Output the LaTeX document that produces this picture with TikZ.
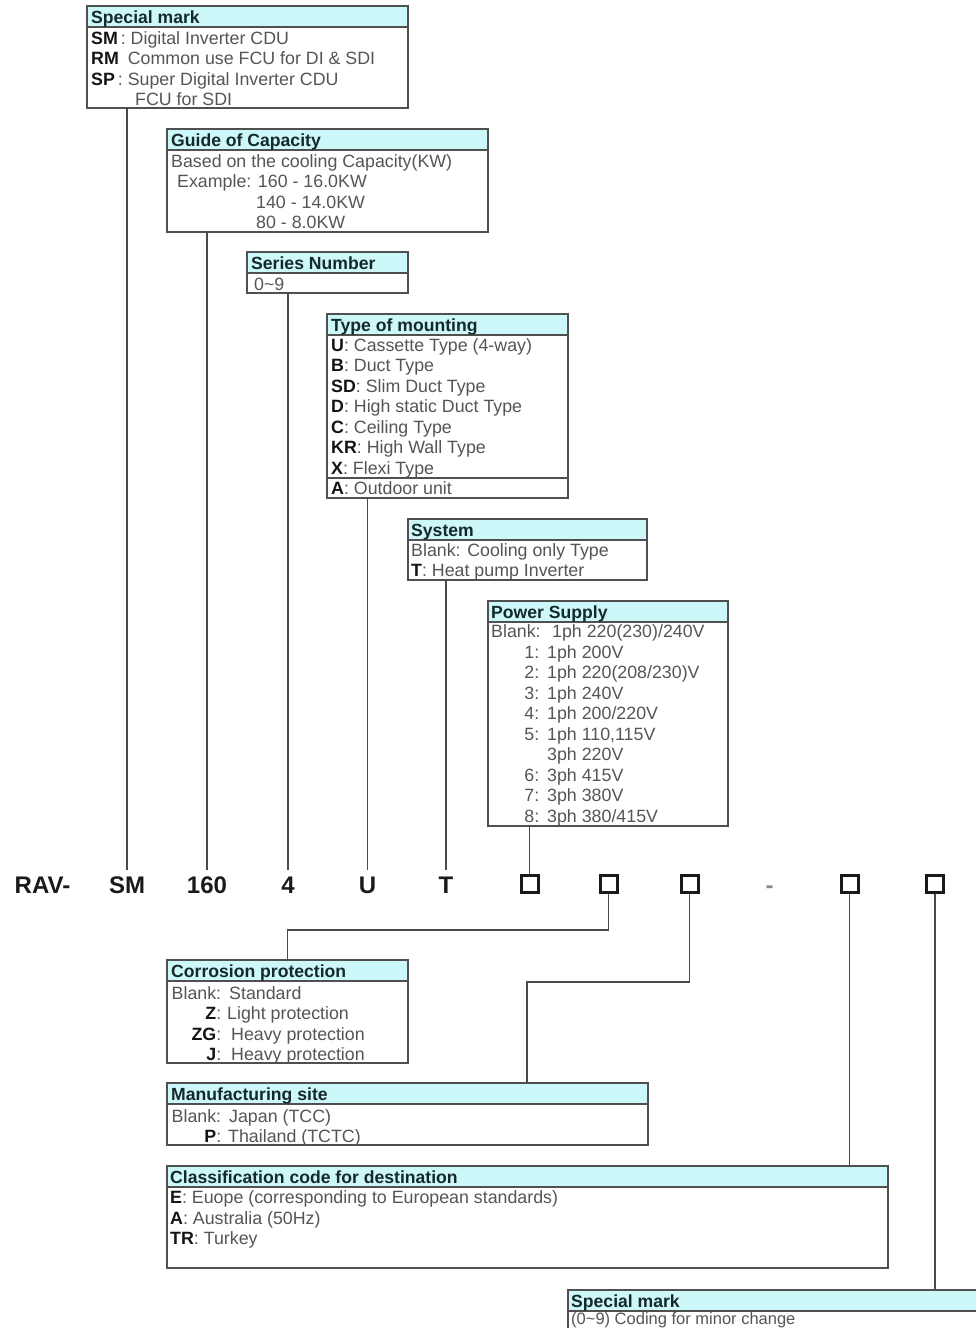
\documentclass[tikz,border=0pt]{standalone}
\usepackage{fontspec}
\setmainfont{Liberation Sans}
\usetikzlibrary{calc}
\definecolor{bordergray}{HTML}{505050}
\definecolor{ttlfill}{HTML}{CDF8FA}
\definecolor{ttltext}{HTML}{15292B}
\definecolor{bodygray}{HTML}{555555}
\definecolor{keyblack}{HTML}{151515}
\definecolor{codeblack}{HTML}{1A1A1A}
\definecolor{linegray}{HTML}{4A4A4A}
\definecolor{dashgray}{HTML}{8A8A8A}
\newcommand\K[1]{\textcolor{keyblack}{\bfseries #1}}
\newcommand\bt[4]{\node[bodytxt] (#1) at (#2,#3) {#4};}
\tikzset{
  box/.style={draw=bordergray, line width=1.1pt, anchor=north west, inner sep=0pt, outer sep=0pt},
  ttlband/.style={draw=bordergray, line width=1.1pt, fill=ttlfill, anchor=north west, inner sep=0pt, outer sep=0pt, minimum height=21pt},
  ttltxt/.style={anchor=base west, inner sep=0pt, font=\fontsize{17.6}{20.5}\selectfont\bfseries, text=ttltext},
  bodytxt/.style={anchor=base west, inner sep=0pt, font=\fontsize{17.8}{20.5}\selectfont, text=bodygray},
  codetxt/.style={anchor=base, inner sep=0pt, font=\fontsize{24}{28}\selectfont\bfseries, text=codeblack},
  sqbox/.style={draw=codeblack, line width=3pt, minimum size=17pt, inner sep=0pt, outer sep=1.5pt},
  conn/.style={draw=linegray, line width=1.2pt},
  sepline/.style={draw=bordergray, line width=1.1pt},
}
\begin{document}
\begin{tikzpicture}[x=1pt,y=-1pt]
\useasboundingbox (0,0) rectangle (976,1328);
\fill[white] (0,0) rectangle (976,1328);
\begin{scope}
\clip (0,0) rectangle (976,1328);

% ---------- Special mark (top)
\node[box, minimum width=321pt, minimum height=102pt] (sm1) at (87,6) {};
\node[ttlband, minimum width=321pt] (sm1t) at (87,6) {};
\node[ttltxt] (sm1h) at (91,23.5) {Special mark};
\bt{sm1a}{91}{44}{\K{SM}\,: Digital Inverter CDU}
\bt{sm1b}{91}{64.5}{\K{RM}\hspace{9pt}Common use FCU for DI \& SDI}
\bt{sm1c}{91}{85}{\K{SP}\,: Super Digital Inverter CDU}
\bt{sm1d}{135}{105.5}{FCU for SDI}

% ---------- Guide of Capacity
\node[box, minimum width=321pt, minimum height=103pt] (gc) at (167,129) {};
\node[ttlband, minimum width=321pt] (gct) at (167,129) {};
\node[ttltxt] (gch) at (171,146.5) {Guide of Capacity};
\bt{gca}{171}{167}{Based on the cooling Capacity(KW)}
\bt{gcb}{177}{187.5}{Example: 160 - 16.0KW}
\bt{gcc}{256}{208}{140 - 14.0KW}
\bt{gcd}{256}{228.5}{80 - 8.0KW}

% ---------- Series Number
\node[box, minimum width=161pt, minimum height=41pt] (sn) at (247,252) {};
\node[ttlband, minimum width=161pt] (snt) at (247,252) {};
\node[ttltxt] (snh) at (251,269.5) {Series Number};
\bt{sna}{254}{290}{0\textasciitilde 9}

% ---------- Type of mounting
\node[box, minimum width=241pt, minimum height=184pt] (tm) at (327,314) {};
\node[ttlband, minimum width=241pt] (tmt) at (327,314) {};
\node[ttltxt] (tmh) at (331,331.5) {Type of mounting};
\draw[sepline] ($(tm.south west)+(0,-20)$) -- ($(tm.south east)+(0,-20)$);
\bt{tma}{331}{351}{\K{U}: Cassette Type (4-way)}
\bt{tmb}{331}{371.5}{\K{B}: Duct Type}
\bt{tmc}{331}{392}{\K{SD}: Slim Duct Type}
\bt{tmd}{331}{412.5}{\K{D}: High static Duct Type}
\bt{tme}{331}{433}{\K{C}: Ceiling Type}
\bt{tmf}{331}{453.5}{\K{KR}: High Wall Type}
\bt{tmg}{331}{474}{\K{X}: Flexi Type}
\bt{tmh2}{331}{494}{\K{A}: Outdoor unit}

% ---------- System
\node[box, minimum width=239pt, minimum height=61pt] (sy) at (408,519) {};
\node[ttlband, minimum width=239pt] (syt) at (408,519) {};
\node[ttltxt] (syh) at (411,536.5) {System};
\bt{sya}{411}{556}{Blank: Cooling only Type}
\bt{syb}{411}{576.5}{\K{T}: Heat pump Inverter}

% ---------- Power Supply
\node[box, minimum width=240pt, minimum height=225pt] (ps) at (488,601) {};
\node[ttlband, minimum width=240pt] (pst) at (488,601) {};
\node[ttltxt] (psh) at (491,618.5) {Power Supply};
\bt{psa}{491}{637.5}{\makebox[61pt][l]{Blank:}1ph 220(230)/240V}
\bt{psb}{491}{658}{\makebox[56pt][r]{1:\hspace{8pt}}1ph 200V}
\bt{psc}{491}{678.5}{\makebox[56pt][r]{2:\hspace{8pt}}1ph 220(208/230)V}
\bt{psd}{491}{699}{\makebox[56pt][r]{3:\hspace{8pt}}1ph 240V}
\bt{pse}{491}{719.5}{\makebox[56pt][r]{4:\hspace{8pt}}1ph 200/220V}
\bt{psf}{491}{740}{\makebox[56pt][r]{5:\hspace{8pt}}1ph 110,115V}
\bt{psg}{491}{760.5}{\makebox[56pt][r]{}3ph 220V}
\bt{psh2}{491}{781}{\makebox[56pt][r]{6:\hspace{8pt}}3ph 415V}
\bt{psi}{491}{801.5}{\makebox[56pt][r]{7:\hspace{8pt}}3ph 380V}
\bt{psj}{491}{822}{\makebox[56pt][r]{8:\hspace{8pt}}3ph 380/415V}

% ---------- Code row
\node[codetxt] (crav) at (42.5,893) {RAV-};
\node[codetxt] (csm) at (127,893) {SM};
\node[codetxt] (ccap) at (207,893) {160};
\node[codetxt] (cser) at (288,893) {4};
\node[codetxt] (cmnt) at (367.5,893) {U};
\node[codetxt] (csys) at (446,893) {T};
\node[sqbox] (s1) at (529.5,884) {};
\node[sqbox] (s2) at (608.5,884) {};
\node[sqbox] (s3) at (689.5,884) {};
\node[codetxt, text=dashgray] (cdash) at (769.5,893) {-};
\node[sqbox] (s4) at (849.5,884) {};
\node[sqbox] (s5) at (935,884) {};

% ---------- Corrosion protection
\node[box, minimum width=241pt, minimum height=103pt] (cp) at (167,960) {};
\node[ttlband, minimum width=241pt] (cpt) at (167,960) {};
\node[ttltxt] (cph) at (171,977.5) {Corrosion protection};
\bt{cpa}{172}{999}{\makebox[49pt][r]{Blank:}\hspace{8pt}Standard}
\bt{cpb}{172}{1019.5}{\makebox[49pt][r]{\K{Z}:}\hspace{6pt}Light protection}
\bt{cpc}{172}{1040}{\makebox[49pt][r]{\K{ZG}:}\hspace{10pt}Heavy protection}
\bt{cpd}{172}{1060.5}{\makebox[49pt][r]{\K{J}:}\hspace{10pt}Heavy protection}

% ---------- Manufacturing site
\node[box, minimum width=481pt, minimum height=62pt] (ms) at (167,1083) {};
\node[ttlband, minimum width=481pt] (mst) at (167,1083) {};
\node[ttltxt] (msh) at (171,1100.5) {Manufacturing site};
\bt{msa}{172}{1122}{\makebox[49pt][r]{Blank:}\hspace{8pt}Japan (TCC)}
\bt{msb}{172}{1142.5}{\makebox[49pt][r]{\K{P}:}\hspace{7pt}Thailand (TCTC)}

% ---------- Classification code for destination
\node[box, minimum width=721pt, minimum height=102pt] (cc) at (167,1166) {};
\node[ttlband, minimum width=721pt] (cct) at (167,1166) {};
\node[ttltxt] (cch) at (170,1183) {Classification code for destination};
\bt{cca}{170}{1203.5}{\K{E}: Euope (corresponding to European standards)}
\bt{ccb}{170}{1224}{\K{A}: Australia (50Hz)}
\bt{ccc}{170}{1244.5}{\K{TR}: Turkey}

% ---------- Special mark (bottom)
\node[box, minimum width=430pt, minimum height=60pt] (sm2) at (568,1290) {};
\node[ttlband, minimum width=430pt] (sm2t) at (568,1290) {};
\node[ttltxt] (sm2h) at (571,1307.5) {Special mark};
\bt{sm2a}{571}{1324.5}{\fontsize{16.5}{18}\selectfont(0\textasciitilde 9) Coding for minor change}

% ---------- Connectors
\draw[conn] (sm1.south -| csm) -- ([yshift=6pt]csm.north);
\draw[conn] (gc.south -| ccap) -- ([yshift=6pt]ccap.north);
\draw[conn] (sn.south -| cser) -- ([yshift=6pt]cser.north);
\draw[conn] (tm.south -| cmnt) -- ([yshift=6pt]cmnt.north);
\draw[conn] (sy.south -| csys) -- ([yshift=6pt]csys.north);
\draw[conn] (ps.south -| s1) -- (s1.north);
\coordinate (j2) at ($(cp.north)+(0,-30)$);
\draw[conn] (s2.south) |- (j2) -- (cp.north);
\coordinate (j3) at (527,982);
\draw[conn] (s3.south) |- (j3) -- (j3 |- ms.north);
\draw[conn] (s4.south) -- (s4.south |- cc.north);
\draw[conn] (s5.south) -- (s5.south |- sm2.north);
\end{scope}
\end{tikzpicture}
\end{document}
